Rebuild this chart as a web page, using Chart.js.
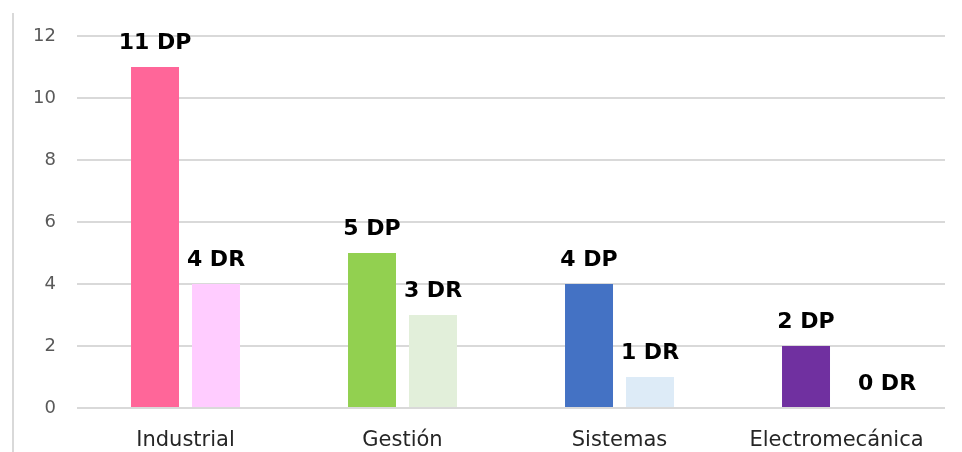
<!DOCTYPE html>
<html>
<head>
<meta charset="utf-8">
<script src="https://cdn.jsdelivr.net/npm/chart.js@4"></script>
<style>
  html, body { margin: 0; padding: 0; background: #fff; }
  #wrap { position: relative; width: 962px; height: 452px; }
  #frame { position: absolute; left: 12px; top: 13px; width: 2px; height: 439px; background: #d9d9d9; }
</style>
</head>
<body>
<div id="wrap">
  <div id="frame"></div>
  <canvas id="myChart" width="962" height="452"></canvas>
</div>
<script>
// datos del grafico
const carreras = ['Industrial', 'Gestión', 'Sistemas', 'Electromecánica'];
const valoresDP = [11, 5, 4, 2];
const valoresDR = [4, 3, 1, 0];
const ticksY = [0, 2, 4, 6, 8, 10, 12];

let colores_dp = ['#FF6699', '#92D050', '#4472C4', '#7030A0'];
let colores_dr = ['#FFCCFF', '#E2EFDA', '#DDEBF7', '#E4D3F0'];

// etiquetas encima de cada barra ("11 DP", "4 DR", ...)
const etiquetas = {
    id: 'etiquetas',
    afterDatasetsDraw(chart) {
        const ctx = chart.ctx;
        ctx.save();
        ctx.font = 'bold 22px "DejaVu Sans"';
        ctx.fillStyle = '#000';
        ctx.textAlign = 'center';
        ctx.textBaseline = 'alphabetic';
        chart.data.datasets.forEach((ds, i) => {
            chart.getDatasetMeta(i).data.forEach((bar, j) => {
                // la etiqueta del valor 0 sale algo corrida a la derecha
                let dx = ds.data[j] === 0 ? 20 : 0;
                ctx.fillText(ds.data[j] + ' ' + ds.label, bar.x + dx, bar.y - 18);
            });
        });
        ctx.restore();
    }
};

var ctx = document.getElementById('myChart').getContext('2d');

new Chart(ctx, {
    type: 'bar',
    data: {
        labels: carreras,
        datasets: [{
            label: 'DP',
            data: valoresDP,
            backgroundColor: colores_dp,
            categoryPercentage: 0.562,
            barPercentage: 0.787
        }, {
            label: 'DR',
            data: valoresDR,
            backgroundColor: colores_dr,
            categoryPercentage: 0.562,
            barPercentage: 0.787
        }]
    },
    options: {
        responsive: false,
        animation: false,
        layout: {
            padding: { left: 0, right: 17, top: 36, bottom: 0 }
        },
        plugins: {
            legend: { display: false },
            tooltip: { enabled: false }
        },
        scales: {
            x: {
                afterFit: (scale) => { scale.height = 44; },
                grid: { display: false },
                border: { display: false },
                ticks: {
                    color: '#262626',
                    font: { family: 'DejaVu Sans', size: 21 },
                    padding: 12
                }
            },
            y: {
                min: 0,
                max: 12,
                afterBuildTicks: (scale) => {
                    scale.ticks = ticksY.map(v => ({ value: v }));
                },
                afterFit: (scale) => { scale.width = 77; },
                grid: { color: '#d9d9d9', lineWidth: 2, drawTicks: false },
                border: { display: false },
                ticks: {
                    color: '#595959',
                    font: { family: 'DejaVu Sans', size: 18 },
                    padding: 21
                }
            }
        }
    },
    plugins: [etiquetas]
});
</script>
</body>
</html>
